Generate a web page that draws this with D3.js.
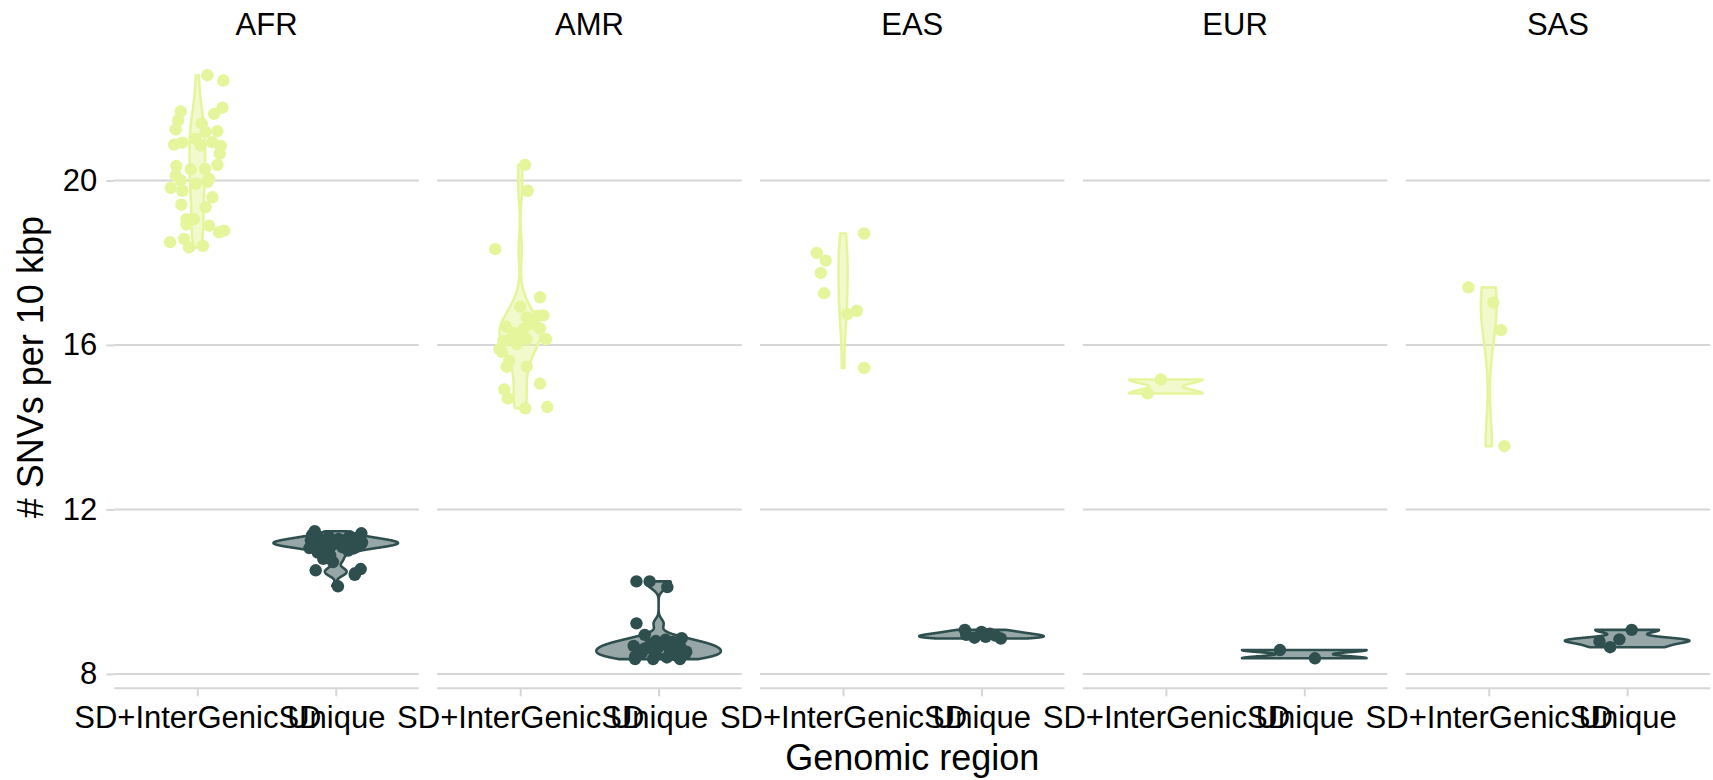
<!DOCTYPE html>
<html><head><meta charset="utf-8">
<script src="https://cdn.jsdelivr.net/npm/d3@7"></script>
<style>html,body{margin:0;padding:0;background:#fff;} svg{display:block;}</style>
</head><body><svg id="chart" width="1713" height="780"></svg>
<script>
const populations = ["AFR", "AMR", "EAS", "EUR", "SAS"];
const regions = ["SD+InterGenicSD", "Unique"];
const yTicks = [8, 12, 16, 20];
const regionColors = ["#e5f59b", "#2f4f4f"];

const afrInter = [22.56,22.43,21.77,21.62,21.68,21.46,21.24,21.38,21.20,21.18,20.87,20.92,21.01,20.85,20.93,20.84,20.65,20.38,20.35,20.27,20.28,20.12,20.00,19.82,19.75,19.92,19.96,20.04,19.59,19.41,19.35,19.06,19.06,18.93,18.90,18.74,18.78,18.50,18.58,18.37,18.41];
const afrInterJitter = [0.072,0.188,0.181,0.121,-0.12,-0.139,-0.156,0.032,0.145,0.06,-0.168,-0.108,-0.012,0.024,0.108,0.169,0.162,0.145,-0.152,-0.048,0.056,-0.156,-0.12,-0.192,-0.108,-0.012,0.072,0.085,0.108,-0.116,0.06,-0.079,-0.024,-0.079,0.085,0.157,0.193,-0.197,-0.096,-0.06,0.041];
const afrUnique = [11.47,11.42,11.38,11.35,11.33,11.30,11.30,11.28,11.27,11.25,11.25,11.24,11.22,11.22,11.20,11.20,11.19,11.18,11.17,11.16,11.15,11.15,11.14,11.13,11.12,11.10,11.10,11.08,11.06,11.05,11.02,11.00,10.95,10.88,10.80,10.72,10.55,10.52,10.45,10.41,10.13];
const afrUniqueJitter = [-0.152,0.185,-0.17,0.1,-0.05,0.15,-0.12,0.02,0.17,-0.18,0.06,-0.08,0.12,-0.02,0.19,-0.14,0.08,-0.06,0.14,-0.1,0.03,0.18,-0.16,0.1,-0.03,0.16,-0.11,0.05,-0.19,0.13,-0.07,0.09,-0.13,-0.04,-0.09,-0.02,0.18,-0.145,0.14,0.137,0.016];

const amrInter = [20.38,19.75,18.33,17.16,16.93,16.71,16.72,16.67,16.45,16.55,16.40,16.38,16.26,16.14,16.14,16.10,16.14,16.02,15.83,15.61,15.47,15.47,15.06,14.92,14.70,14.46,14.49,16.30,16.50,15.90];
const amrInterJitter = [0.035,0.054,-0.18,0.143,0.0,0.131,0.167,0.047,-0.105,0.095,0.143,0.022,-0.025,0.047,0.186,-0.122,-0.074,-0.025,-0.134,-0.079,-0.098,0.047,0.143,-0.115,-0.09,0.037,0.196,-0.05,0.07,-0.15];
const amrUnique = [10.25,10.25,10.11,9.23,8.95,8.87,8.83,8.80,8.78,8.75,8.72,8.70,8.68,8.66,8.64,8.62,8.60,8.58,8.56,8.54,8.52,8.50,8.48,8.46,8.44,8.42,8.40,8.36,8.36,8.36];
const amrUniqueJitter = [-0.16,-0.065,0.063,-0.16,-0.1,0.167,0.05,-0.02,0.1,0.14,-0.06,0.12,-0.18,0.0,0.16,-0.1,0.08,-0.04,0.15,0.2,-0.12,0.11,0.19,-0.02,0.13,-0.17,0.06,-0.17,-0.04,0.155];

const easInter = [18.71,18.24,18.05,17.75,17.26,16.83,16.75,15.44];
const easInterJitter = [0.152,-0.19,-0.125,-0.161,-0.137,0.099,0.031,0.152];
const easUnique = [9.07,9.02,8.98,8.95,8.93,8.90,8.88,8.86];
const easUniqueJitter = [-0.12,0.0,0.06,-0.11,0.1,0.03,-0.05,0.14];

const eurInter = [15.16,14.82];
const eurInterJitter = [-0.036,-0.132];
const eurUnique = [8.58,8.38];
const eurUniqueJitter = [-0.176,0.077];

const sasInter = [17.40,17.03,16.36,13.54];
const sasInterJitter = [-0.147,0.033,0.089,0.113];
const sasUnique = [9.07,8.79,8.84,8.65];
const sasUniqueJitter = [0.033,-0.2,-0.056,-0.123];

const panelData = {
  AFR: [[afrInter, afrInterJitter], [afrUnique, afrUniqueJitter]],
  AMR: [[amrInter, amrInterJitter], [amrUnique, amrUniqueJitter]],
  EAS: [[easInter, easInterJitter], [easUnique, easUniqueJitter]],
  EUR: [[eurInter, eurInterJitter], [eurUnique, eurUniqueJitter]],
  SAS: [[sasInter, sasInterJitter], [sasUnique, sasUniqueJitter]]
};

const FONT = "'Liberation Sans', Arial, Helvetica, sans-serif";
const GRID = "#d6d6d6";
const panelLeft = 114.3, panelStep = 322.85, panelW = 304.5, panelTop = 46, panelBottom = 688.3;

const svg = d3.select("#chart");
svg.append("rect").attr("width", 1713).attr("height", 780).attr("fill", "#fff");

const allVals = [].concat(...populations.map(p => panelData[p].flatMap(s => s[0])));
const ext = d3.extent(allVals);
const pad = (ext[1] - ext[0]) * 0.05;
const y = d3.scaleLinear().domain([ext[0] - pad, ext[1] + pad]).range([panelBottom, panelTop]);

function bwNrd0(v) {
  const s = v.slice().sort(d3.ascending);
  const sd = d3.deviation(s);
  const iqr = d3.quantile(s, 0.75) - d3.quantile(s, 0.25);
  let lo = Math.min(sd, iqr / 1.34);
  if (!(lo > 0)) lo = sd || Math.abs(s[0]) || 1;
  return 0.9 * lo * Math.pow(s.length, -0.2);
}
function kde(v) {
  const bw = bwNrd0(v);
  const [mn, mx] = d3.extent(v);
  const n = 512, out = [];
  for (let i = 0; i < n; i++) {
    const t = mn + (mx - mn) * i / (n - 1);
    let s = 0;
    for (const xi of v) { const z = (t - xi) / bw; s += Math.exp(-0.5 * z * z); }
    out.push({t, d: s / (v.length * bw * Math.sqrt(2 * Math.PI))});
  }
  return out;
}

populations.forEach((pop, pi) => {
  const x0 = panelLeft + pi * panelStep;
  const x = d3.scalePoint().domain(regions).range([x0, x0 + panelW]).padding(0.6);
  const step = x.step();
  const g = svg.append("g");

  g.selectAll("line.grid").data(yTicks).join("line")
    .attr("x1", x0).attr("x2", x0 + panelW)
    .attr("y1", d => y(d)).attr("y2", d => y(d))
    .attr("stroke", GRID).attr("stroke-width", 2);

  const xAxis = d3.axisBottom(x).tickSize(8).tickPadding(10);
  const ax = g.append("g").attr("transform", `translate(0,${panelBottom})`).call(xAxis);
  ax.select(".domain").attr("stroke", GRID).attr("stroke-width", 2).attr("d", `M${x0},0H${x0 + panelW}`);
  ax.selectAll(".tick line").attr("stroke", GRID).attr("stroke-width", 2);
  ax.selectAll(".tick text").attr("font-family", FONT).attr("font-size", 31).attr("fill", "#000").attr("dy", "0.71em");

  g.append("text").attr("x", x0 + panelW / 2).attr("y", 35).attr("text-anchor", "middle")
    .attr("font-family", FONT).attr("font-size", 31).attr("fill", "#000").text(pop);

  const dens = panelData[pop].map(s => kde(s[0]));
  const maxD = d3.max(dens, a => d3.max(a, e => e.d));
  dens.forEach((a, ri) => {
    const cx = x(regions[ri]);
    const area = d3.area()
      .y(e => y(e.t))
      .x0(e => cx - e.d / maxD * 0.45 * step)
      .x1(e => cx + e.d / maxD * 0.45 * step);
    g.append("path").attr("d", area(a))
      .attr("fill", regionColors[ri]).attr("fill-opacity", 0.5)
      .attr("stroke", regionColors[ri]).attr("stroke-width", 2.6)
      .attr("stroke-linejoin", "round");
  });

  panelData[pop].forEach((s, ri) => {
    const cx = x(regions[ri]);
    g.selectAll(null).data(s[0].map((v, i) => ({v, j: s[1][i]}))).join("circle")
      .attr("cx", d => cx + d.j * step).attr("cy", d => y(d.v)).attr("r", 6.2)
      .attr("fill", regionColors[ri]);
  });

  if (pi === 0) {
    const yAxis = d3.axisLeft(y).tickValues(yTicks).tickSize(8).tickPadding(9);
    const ay = g.append("g").attr("transform", `translate(${x0},0)`).call(yAxis);
    ay.select(".domain").remove();
    ay.selectAll(".tick line").attr("stroke", GRID).attr("stroke-width", 2);
    ay.selectAll(".tick text").attr("font-family", FONT).attr("font-size", 31).attr("fill", "#000");
  }
});

svg.append("text").attr("x", (panelLeft + panelLeft + 4 * panelStep + panelW) / 2).attr("y", 770)
  .attr("text-anchor", "middle").attr("font-family", FONT).attr("font-size", 36).attr("fill", "#000")
  .text("Genomic region");
svg.append("text").attr("transform", `translate(43,${(panelTop + panelBottom) / 2}) rotate(-90)`)
  .attr("text-anchor", "middle").attr("font-family", FONT).attr("font-size", 36).attr("fill", "#000")
  .text("# SNVs per 10 kbp");
</script></body></html>
